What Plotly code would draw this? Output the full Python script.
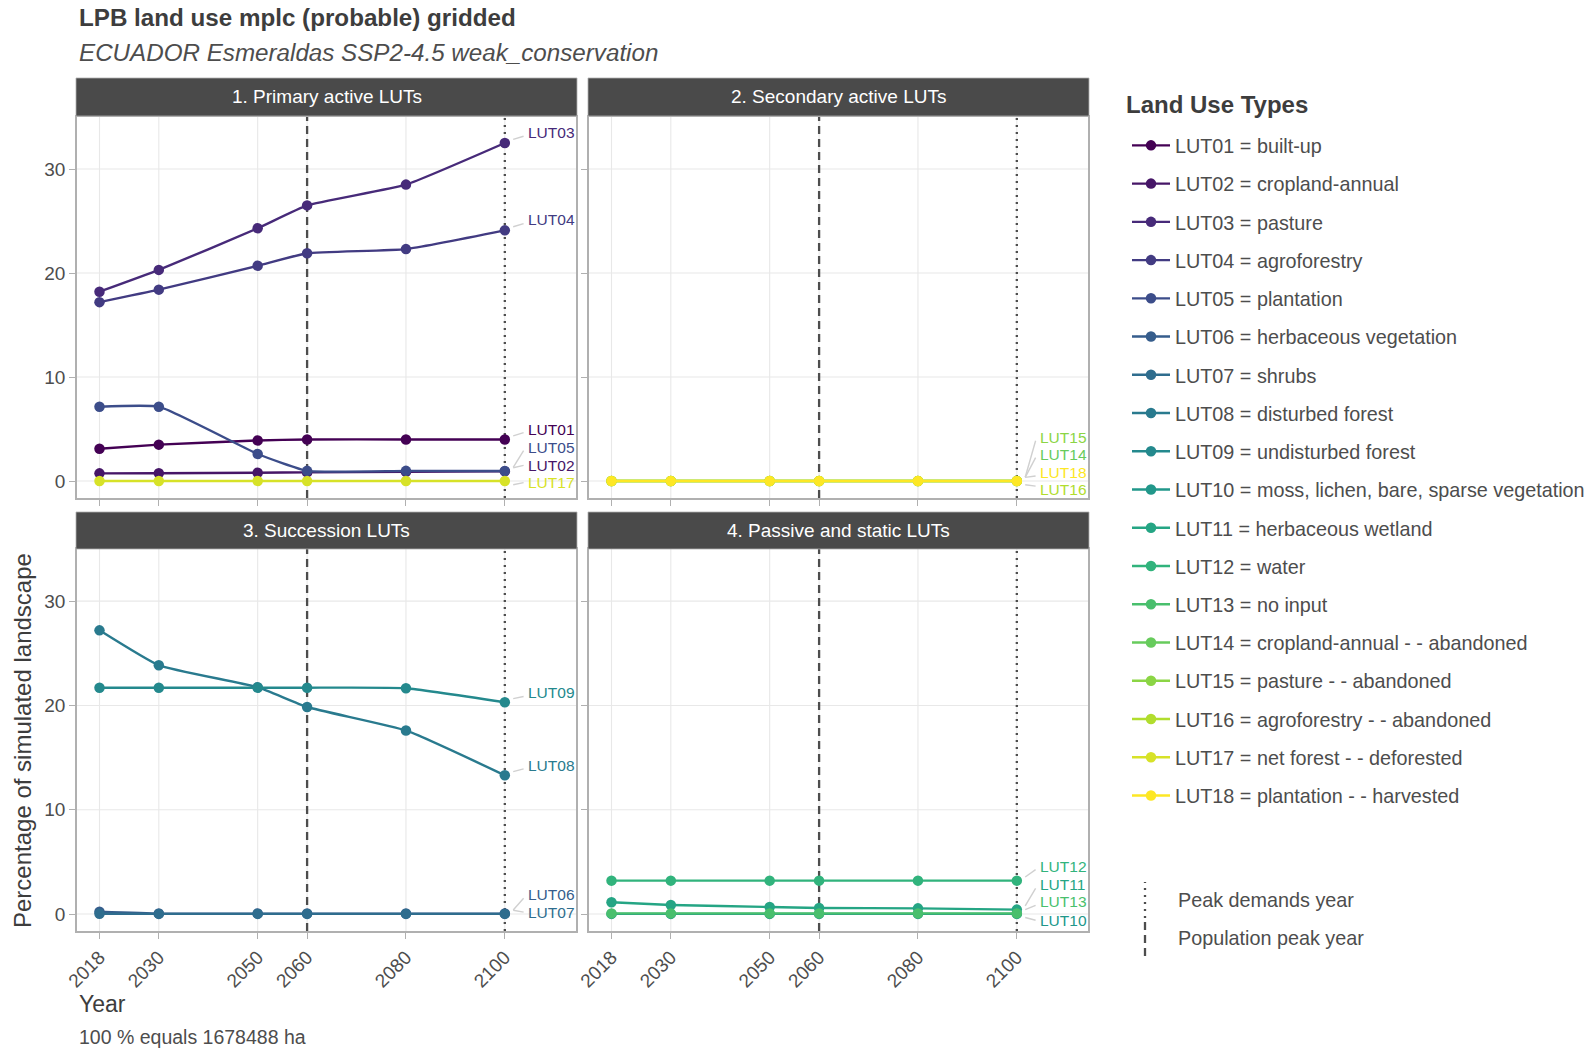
import plotly.graph_objects as go
from plotly.colors import sample_colorscale

W, H = 1593, 1050

# ---------------------------------------------------------------- data
years = [2018, 2030, 2050, 2060, 2080, 2100]
year_ticks = [2018, 2030, 2050, 2060, 2080, 2100]
pct_ticks = [0, 10, 20, 30]

population_peak_year = 2060
peak_demands_year = 2100

lut_ids = ["LUT%02d" % i for i in range(1, 19)]
lut_names = [
    "built-up", "cropland-annual", "pasture", "agroforestry", "plantation",
    "herbaceous vegetation", "shrubs", "disturbed forest", "undisturbed forest",
    "moss, lichen, bare, sparse vegetation", "herbaceous wetland", "water",
    "no input", "cropland-annual - - abandoned", "pasture - - abandoned",
    "agroforestry - - abandoned", "net forest - - deforested",
    "plantation - - harvested",
]

panel_titles = [
    "1. Primary active LUTs", "2. Secondary active LUTs",
    "3. Succession LUTs", "4. Passive and static LUTs",
]

# percentage of simulated landscape per land use type
lut01 = [3.1, 3.5, 3.9, 4.0, 4.0, 4.0]
lut02 = [0.74, 0.75, 0.80, 0.83, 0.88, 0.93]
lut03 = [18.2, 20.3, 24.3, 26.5, 28.5, 32.5]
lut04 = [17.2, 18.4, 20.7, 21.9, 22.3, 24.1]
lut05 = [7.15, 7.15, 2.6, 0.98, 0.98, 0.96]
lut06 = [0.22, 0.04, 0.04, 0.04, 0.04, 0.04]
lut07 = [0.02, 0.01, 0.01, 0.01, 0.01, 0.01]
lut08 = [27.2, 23.85, 21.75, 19.85, 17.6, 13.3]
lut09 = [21.7, 21.7, 21.7, 21.7, 21.65, 20.3]
lut10 = [0.01, 0.01, 0.01, 0.01, 0.01, 0.01]
lut11 = [1.12, 0.87, 0.67, 0.58, 0.54, 0.42]
lut12 = [3.2, 3.2, 3.2, 3.2, 3.2, 3.2]
lut13 = [0.06, 0.06, 0.06, 0.06, 0.06, 0.06]
lut14 = [0.01, 0.01, 0.01, 0.01, 0.01, 0.01]
lut15 = [0.01, 0.01, 0.01, 0.01, 0.01, 0.01]
lut16 = [0.0, 0.0, 0.0, 0.0, 0.0, 0.0]
lut17 = [0.0, 0.0, 0.0, 0.0, 0.0, 0.0]
lut18 = [0.0, 0.0, 0.0, 0.0, 0.0, 0.0]

lut_values = [lut01, lut02, lut03, lut04, lut05, lut06, lut07, lut08, lut09,
              lut10, lut11, lut12, lut13, lut14, lut15, lut16, lut17, lut18]

# facet (1..4) each land use type is drawn in
lut_panel = [1, 1, 1, 1, 1, 3, 3, 3, 3, 4, 4, 4, 4, 2, 2, 2, 1, 2]

# ------------------------------------------------------------- styling
FONT = "Liberation Sans, Arial, Helvetica, sans-serif"
colors = sample_colorscale("Viridis", [i / 17 for i in range(18)])
GRID = "#e8e8e8"
BORDER = "#b0b0b0"
REFLINE = "#4d4d4d"

# repelled end-label heights (data units), keyed by LUT id
label_y = {
    "LUT03": 33.5, "LUT04": 25.1, "LUT01": 5.0, "LUT05": 3.27, "LUT02": 1.5,
    "LUT17": -0.15,
    "LUT15": 4.23, "LUT14": 2.6, "LUT18": 0.83, "LUT16": -0.84,
    "LUT09": 21.2, "LUT08": 14.26, "LUT06": 1.86, "LUT07": 0.18,
    "LUT12": 4.6, "LUT11": 2.8, "LUT13": 1.18, "LUT10": -0.6,
}

# panel geometry in pixels (left, right) x (top, bottom)
cols_px = [(77, 576), (589, 1088)]
rows_px = [(117, 498), (549, 931)]
strips_px = [(78, 116), (512, 549)]
X_RANGE = [2013.45, 2114.4]
Y_RANGE = [-1.63, 35.0]


def fx(px):
    return px / W


def fy(py):
    return 1 - py / H


fig = go.Figure()

for i, (lid, name, vals, pnl) in enumerate(zip(lut_ids, lut_names, lut_values, lut_panel)):
    sfx = "" if pnl == 1 else str(pnl)
    fig.add_trace(go.Scatter(
        x=years, y=vals, name=f"{lid} = {name}",
        mode="lines+markers",
        line=dict(color=colors[i], width=2.4, shape="spline", smoothing=0.4),
        marker=dict(color=colors[i], size=10.5),
        xaxis="x" + sfx, yaxis="y" + sfx,
        legendgroup=lid, showlegend=True,
    ))

annotations = []
shapes = []

for p in range(4):
    c, r = p % 2, p // 2
    sfx = "" if p == 0 else str(p + 1)
    xr, yr = "x" + sfx, "y" + sfx
    x0, x1 = cols_px[c]
    y0, y1 = rows_px[r]
    axis_common = dict(
        showline=True, mirror=True, linecolor=BORDER, linewidth=1.6,
        showgrid=False, zeroline=False,
        ticks="outside", ticklen=6, tickcolor=BORDER, tickwidth=1.2,
        tickfont=dict(family=FONT, size=19, color="#4d4d4d"),
        fixedrange=True,
    )
    fig.update_layout(**{
        "xaxis" + sfx: dict(
            axis_common, domain=[fx(x0), fx(x1)], range=X_RANGE,
            tickvals=year_ticks, tickangle=-45, showticklabels=(r == 1),
            anchor=yr,
        ),
        "yaxis" + sfx: dict(
            axis_common, domain=[fy(y1), fy(y0)], range=Y_RANGE,
            tickvals=pct_ticks, showticklabels=(c == 0),
            ticklabelstandoff=0, anchor=xr,
        ),
    })

    # panel grid (drawn as shapes so the reference-year lines sit on top of it)
    for yv in year_ticks:
        shapes.append(dict(type="line", xref=xr, yref=yr + " domain",
                           x0=yv, x1=yv, y0=0, y1=1,
                           line=dict(color=GRID, width=1.1), layer="below"))
    for pv in pct_ticks:
        shapes.append(dict(type="line", xref=xr + " domain", yref=yr,
                           x0=0, x1=1, y0=pv, y1=pv,
                           line=dict(color=GRID, width=1.1), layer="below"))

    # reference years
    shapes.append(dict(type="line", xref=xr, yref=yr + " domain",
                       x0=population_peak_year, x1=population_peak_year, y0=0, y1=1,
                       line=dict(color=REFLINE, width=2.3, dash="8px,5px"),
                       layer="below"))
    shapes.append(dict(type="line", xref=xr, yref=yr + " domain",
                       x0=peak_demands_year, x1=peak_demands_year, y0=0, y1=1,
                       line=dict(color=REFLINE, width=2.3, dash="2px,5px"),
                       layer="below"))

    # facet strip
    s0, s1 = strips_px[r]
    shapes.append(dict(type="rect", xref="paper", yref="paper",
                       x0=fx(x0 - 1), x1=fx(x1 + 1), y0=fy(s1), y1=fy(s0),
                       fillcolor="#4a4a4a", line=dict(color=BORDER, width=0.8),
                       layer="above"))
    annotations.append(dict(text=panel_titles[p], xref="paper", yref="paper",
                            x=fx((x0 + x1) / 2), y=fy((s0 + s1) / 2),
                            showarrow=False, xanchor="center", yanchor="middle",
                            font=dict(family=FONT, size=19, color="white")))

# end labels with leader segments
for i, (lid, vals, pnl) in enumerate(zip(lut_ids, lut_values, lut_panel)):
    sfx = "" if pnl == 1 else str(pnl)
    ly = label_y[lid]
    v_end = vals[-1]
    annotations.append(dict(text=lid, xref="x" + sfx, yref="y" + sfx,
                            x=2104.3, y=ly, showarrow=False,
                            xanchor="left", yanchor="middle",
                            font=dict(family=FONT, size=15.5, color=colors[i])))
    dy = ly - v_end
    shapes.append(dict(type="line", xref="x" + sfx, yref="y" + sfx,
                       x0=2101.7, x1=2103.8,
                       y0=v_end + (0.35 if dy > 0 else -0.35 if dy < 0 else 0),
                       y1=ly - (0.35 if dy > 0.7 else -0.35 if dy < -0.7 else 0),
                       line=dict(color="#d0d0d0", width=1.4), layer="above"))

# titles and captions
annotations += [
    dict(text="<b>LPB land use mplc (probable) gridded</b>", xref="paper", yref="paper",
         x=fx(77), y=fy(17), xanchor="left", yanchor="middle", showarrow=False,
         font=dict(family=FONT, size=24.2, color="#3d3d3d")),
    dict(text="<i>ECUADOR Esmeraldas SSP2-4.5 weak_conservation</i>", xref="paper", yref="paper",
         x=fx(77), y=fy(52), xanchor="left", yanchor="middle", showarrow=False,
         font=dict(family=FONT, size=24.2, color="#4d4d4d")),
    dict(text="Percentage of simulated landscape", xref="paper", yref="paper",
         x=fx(22), y=fy(741), xanchor="center", yanchor="middle", showarrow=False,
         textangle=-90, font=dict(family=FONT, size=24, color="#3d3d3d")),
    dict(text="Year", xref="paper", yref="paper",
         x=fx(77), y=fy(1004), xanchor="left", yanchor="middle", showarrow=False,
         font=dict(family=FONT, size=23, color="#3d3d3d")),
    dict(text="100 % equals 1678488 ha", xref="paper", yref="paper",
         x=fx(77), y=fy(1037), xanchor="left", yanchor="middle", showarrow=False,
         font=dict(family=FONT, size=19.5, color="#4d4d4d")),
    dict(text="<b>Land Use Types</b>", xref="paper", yref="paper",
         x=fx(1124), y=fy(104), xanchor="left", yanchor="middle", showarrow=False,
         font=dict(family=FONT, size=24, color="#3d3d3d")),
]

# line-type key for the reference years
for text, ymid, dash in [("Peak demands year", 900, "2px,5px"),
                         ("Population peak year", 938, "8px,5px")]:
    shapes.append(dict(type="line", xref="paper", yref="paper",
                       x0=fx(1145), x1=fx(1145), y0=fy(ymid + 18), y1=fy(ymid - 18),
                       line=dict(color=REFLINE, width=2.3, dash=dash)))
    annotations.append(dict(text=text, xref="paper", yref="paper",
                            x=fx(1176), y=fy(ymid), xanchor="left", yanchor="middle",
                            showarrow=False,
                            font=dict(family=FONT, size=19.8, color="#4d4d4d")))

fig.update_layout(
    width=W, height=H,
    margin=dict(l=0, r=0, t=0, b=0, autoexpand=False),
    paper_bgcolor="white", plot_bgcolor="white",
    font=dict(family=FONT, color="#4d4d4d"),
    shapes=shapes, annotations=annotations,
    legend=dict(
        x=fx(1127), y=fy(126), xanchor="left", yanchor="top",
        font=dict(family=FONT, size=19.8, color="#4d4d4d"),
        traceorder="grouped", tracegroupgap=9.5,
        bgcolor="rgba(0,0,0,0)", itemwidth=38,
    ),
    showlegend=True,
)

fig.write_html("out.html")
